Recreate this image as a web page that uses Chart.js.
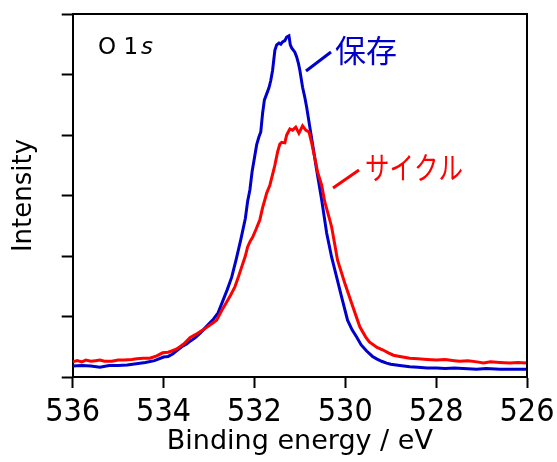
<!DOCTYPE html>
<html>
<head>
<meta charset="utf-8">
<script src="https://cdn.jsdelivr.net/npm/chart.js@4/dist/chart.umd.min.js"></script>
<style>
  html, body { margin: 0; padding: 0; background: #fff; }
  #wrap { width: 557px; height: 462px; position: relative; }
</style>
</head>
<body>
<div id="wrap"><canvas id="c" width="557" height="462"></canvas></div>
<script>
// Binding energy (eV) and intensity (arb. units) for 保存 (stored)
const storedEnergy = [536.0,535.8,535.6,535.4,535.2,535.0,534.8,534.6,534.4,534.2,534.0,533.9,533.8,533.7,533.6,533.5,533.4,533.3,533.2,533.1,533.0,532.9,532.8,532.7,532.6,532.5,532.4,532.3,532.2,532.15,532.1,532.05,532.0,531.95,531.9,531.86,531.82,531.78,531.73,531.68,531.64,531.6,531.55,531.51,531.46,531.42,531.38,531.33,531.29,531.24,531.21,531.18,531.14,531.11,531.07,531.03,531.0,530.94,530.89,530.85,530.78,530.71,530.63,530.52,530.41,530.3,530.19,530.08,529.95,529.85,529.75,529.65,529.53,529.4,529.31,529.2,529.09,529.0,528.8,528.58,528.4,528.2,527.99,527.8,527.6,527.4,527.11,526.9,526.6,526.3,526.0];
const storedIntensity = [0.18,0.19,0.18,0.16,0.19,0.19,0.20,0.22,0.24,0.27,0.33,0.34,0.38,0.44,0.50,0.54,0.60,0.65,0.72,0.80,0.88,0.96,1.06,1.25,1.44,1.65,1.95,2.27,2.62,2.90,3.09,3.40,3.62,3.84,3.97,4.05,4.36,4.58,4.68,4.78,4.90,5.07,5.40,5.49,5.52,5.50,5.54,5.56,5.62,5.64,5.49,5.44,5.40,5.37,5.29,5.18,5.07,4.79,4.62,4.46,4.13,3.80,3.42,2.93,2.38,1.98,1.65,1.32,0.94,0.78,0.66,0.53,0.43,0.34,0.30,0.26,0.23,0.21,0.19,0.17,0.16,0.15,0.15,0.14,0.15,0.14,0.13,0.14,0.13,0.13,0.13];

// Binding energy (eV) and intensity for サイクル (cycled)
const cycledEnergy = [536.0,535.9,535.8,535.71,535.6,535.5,535.4,535.3,535.14,535.0,534.87,534.7,534.59,534.45,534.3,534.15,534.02,533.9,533.82,533.72,533.64,533.55,533.42,533.3,533.13,533.05,532.98,532.9,532.83,532.72,532.61,532.52,532.43,532.35,532.28,532.2,532.15,532.09,532.04,531.96,531.88,531.82,531.77,531.73,531.66,531.6,531.55,531.49,531.44,531.4,531.33,531.29,531.22,531.16,531.09,531.02,530.94,530.87,530.8,530.74,530.67,530.61,530.52,530.45,530.39,530.3,530.17,530.01,529.86,529.68,529.55,529.47,529.3,529.18,529.05,528.94,528.8,528.58,528.4,528.2,527.99,527.8,527.6,527.48,527.3,527.1,526.96,526.8,526.6,526.38,526.2,526.0];
const cycledIntensity = [0.25,0.27,0.25,0.28,0.26,0.27,0.28,0.26,0.26,0.28,0.28,0.29,0.30,0.31,0.31,0.35,0.40,0.41,0.43,0.46,0.50,0.55,0.65,0.70,0.78,0.82,0.86,0.90,0.94,1.10,1.24,1.36,1.49,1.66,1.82,2.00,2.15,2.25,2.31,2.45,2.60,2.80,2.93,3.04,3.17,3.35,3.50,3.72,3.85,3.88,3.87,4.00,4.10,4.08,4.13,4.03,4.15,4.08,4.05,3.87,3.62,3.39,3.17,2.89,2.73,2.48,1.93,1.55,1.22,0.83,0.66,0.58,0.49,0.45,0.40,0.36,0.34,0.31,0.30,0.29,0.28,0.29,0.27,0.26,0.27,0.25,0.23,0.25,0.24,0.23,0.24,0.23];

const seriesLabels = ['保存', 'サイクル'];
const xTickValues = [536, 534, 532, 530, 528, 526];
const xTitle = 'Binding energy / eV';
const yTitle = 'Intensity';
const peakLabel = 'O 1';

const toPoints = (xs, ys) => xs.map((x, i) => ({ x: x, y: ys[i] }));

const BLUE = '#0000CC';
const RED = '#FF0000';

const framePlugin = {
  id: 'frame',
  afterDraw(chart) {
    const { ctx, chartArea: a } = chart;
    ctx.save();
    ctx.strokeStyle = '#000';
    ctx.lineWidth = 2;
    ctx.beginPath();
    ctx.moveTo(a.left, a.top);
    ctx.lineTo(a.right, a.top);
    ctx.lineTo(a.right, a.bottom);
    ctx.stroke();
    ctx.restore();
  }
};

const labelPlugin = {
  id: 'labels',
  afterDraw(chart) {
    const { ctx } = chart;
    ctx.save();
    // O 1s
    ctx.fillStyle = '#000';
    ctx.textBaseline = 'alphabetic';
    ctx.textAlign = 'left';
    ctx.font = '23px "DejaVu Sans"';
    ctx.fillText(peakLabel, 98, 54);
    ctx.font = 'italic 23px "DejaVu Sans"';
    ctx.fillText('s', 141, 54);
    // 保存
    ctx.fillStyle = BLUE;
    ctx.strokeStyle = BLUE;
    ctx.lineWidth = 3;
    ctx.beginPath();
    ctx.moveTo(306, 71);
    ctx.lineTo(331, 52);
    ctx.stroke();
    ctx.font = '31px "Noto Sans CJK JP"';
    ctx.textBaseline = 'middle';
    ctx.fillText(seriesLabels[0], 335, 50);
    // サイクル
    ctx.fillStyle = RED;
    ctx.strokeStyle = RED;
    ctx.beginPath();
    ctx.moveTo(333, 188);
    ctx.lineTo(359, 170);
    ctx.stroke();
    ctx.translate(365, 167);
    ctx.scale(0.79, 1);
    ctx.font = '31px "Noto Sans CJK JP"';
    ctx.fillText(seriesLabels[1], 0, 0);
    ctx.restore();
  }
};

new Chart(document.getElementById('c'), {
  type: 'line',
  data: {
    datasets: [
      { label: seriesLabels[1], data: toPoints(cycledEnergy, cycledIntensity), borderColor: RED, borderWidth: 3, pointRadius: 0, tension: 0, fill: false },
      { label: seriesLabels[0], data: toPoints(storedEnergy, storedIntensity), borderColor: BLUE, borderWidth: 3, pointRadius: 0, tension: 0, fill: false }
    ]
  },
  options: {
    responsive: false,
    animation: false,
    events: [],
    layout: { padding: { left: 0, top: 14, right: 30, bottom: 0 } },
    plugins: { legend: { display: false }, tooltip: { enabled: false } },
    scales: {
      x: {
        type: 'linear',
        reverse: true,
        min: 526,
        max: 536,
        afterBuildTicks(scale) { scale.ticks = xTickValues.map(v => ({ value: v })); },
        afterFit(scale) { scale.height = 85; scale.paddingLeft = 0; scale.paddingRight = 0; },
        ticks: {
          color: '#000',
          font: { family: '"Liberation Sans Narrow", "DejaVu Sans Condensed", sans-serif', size: 32 },
          padding: 5,
          maxRotation: 0,
          autoSkip: false
        },
        grid: { display: true, drawOnChartArea: false, drawTicks: true, tickLength: 11, tickWidth: 2, tickColor: '#000' },
        border: { display: true, color: '#000', width: 2 },
        title: { display: true, text: xTitle, color: '#000', font: { family: '"DejaVu Sans"', size: 27 }, padding: { top: 0, bottom: 4 } }
      },
      y: {
        min: 0,
        max: 6,
        afterFit(scale) { scale.width = 72.7; scale.paddingTop = 0; scale.paddingBottom = 0; },
        ticks: { display: false, stepSize: 1 },
        grid: { display: true, drawOnChartArea: false, drawTicks: true, tickLength: 11, tickWidth: 2, tickColor: '#000' },
        border: { display: true, color: '#000', width: 2 },
        title: { display: true, text: yTitle, color: '#000', font: { family: '"DejaVu Sans"', size: 26 }, padding: { top: 9, bottom: 0 } }
      }
    }
  },
  plugins: [framePlugin, labelPlugin]
});
</script>
</body>
</html>
